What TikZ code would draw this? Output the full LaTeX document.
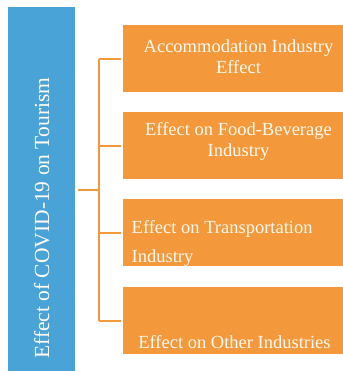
\documentclass[tikz,border=0pt]{standalone}
\usepackage{fontspec}
\setmainfont{Liberation Serif}
\usepackage{tikz}

\definecolor{tourblue}{RGB}{74,163,214}
\definecolor{tourorange}{RGB}{243,152,59}
\definecolor{tourtext}{RGB}{255,250,240}

\tikzset{
  effectbox/.style={fill=tourorange, draw=none, minimum width=220bp, minimum height=67bp, anchor=north west, inner sep=0pt},
  boxtext/.style={text=tourtext, font=\fontsize{18.5bp}{21bp}\selectfont, inner sep=0pt, anchor=base},
  link/.style={draw=tourorange, line width=2bp}
}

\begin{document}
\begin{tikzpicture}[x=1bp,y=1bp,yscale=-1]
\useasboundingbox (0,0) rectangle (343,371);

% main topic bar
\node (tourism) [fill=tourblue, minimum width=67bp, minimum height=364bp, anchor=north west, inner sep=0pt] at (8,7) {};
\node (tourismlabel) [boxtext, font=\fontsize{21.5bp}{24bp}\selectfont, rotate=90, anchor=base west] at (49,359) {Effect of COVID-19 on Tourism};

% the four effect boxes
\node (box1) [effectbox] at (123,25) {};
\node (box2) [effectbox] at (123,112) {};
\node (box3) [effectbox] at (123,199) {};
\node (box4) [effectbox] at (123,287) {};

% labels (base = baseline of the last line)
\node (text1) [boxtext, align=center] at (238.5,73) {Accommodation Industry\\Effect};
\node (text2) [boxtext, align=center] at (238.5,156) {Effect on Food-Beverage\\Industry};
\node (text3) [boxtext, align=left, anchor=base west, font=\fontsize{18.5bp}{29bp}\selectfont] at (131.5,262) {Effect on Transportation\\Industry};
\node (text4) [boxtext] at (234.5,348) {Effect on Other Industries};

% bracket
\coordinate (spine) at (99,190);
\draw[link] ([xshift=3bp]tourism.east |- spine) -- (spine);
\draw[link] (spine |- box1.west) -- (spine |- box4.west);
\foreach \b in {box1,box2,box3,box4}
  \draw[link] (spine |- \b.west) -- ([xshift=-2bp]\b.west);

\end{tikzpicture}
\end{document}
